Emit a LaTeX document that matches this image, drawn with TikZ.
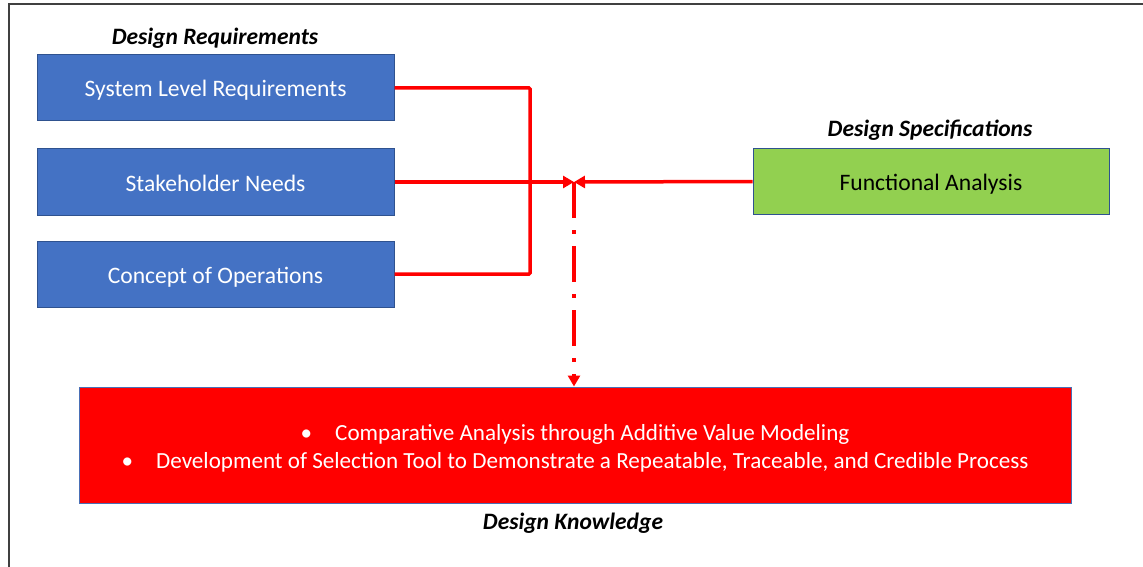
\documentclass[tikz,border=0pt]{standalone}
\usepackage{fontspec}
\setmainfont{Carlito}
\usetikzlibrary{arrows.meta}
\definecolor{boxblue}{HTML}{4472C4}
\definecolor{boxedge}{HTML}{2F528F}
\definecolor{boxgreen}{HTML}{92D050}
\definecolor{edgeblue}{HTML}{4A6FB5}
\tikzset{
  req/.style={rectangle, draw=boxedge, line width=1pt, fill=boxblue, text=white,
    minimum width=357pt, minimum height=66pt, inner sep=0pt, text height=20pt, text depth=2pt,
    font=\fontsize{23.6}{26}\selectfont},
  spec/.style={req, fill=boxgreen, text=black, minimum width=356pt, minimum height=65pt},
  know/.style={rectangle, draw=edgeblue, line width=1pt, fill=red, text=white,
    minimum width=992pt, minimum height=116pt, inner sep=0pt,
    font=\fontsize{23.1}{28}\selectfont},
  ttl/.style={font=\fontsize{23.5}{26}\selectfont\bfseries\itshape, inner sep=0pt},
  wire/.style={draw=red, line width=3.5pt},
  tip/.style={-{Triangle[length=11pt,width=12pt]}},
}
\begin{document}
\begin{tikzpicture}[x=1pt,y=-1pt]
\useasboundingbox (0,0) rectangle (1143,567);
\draw[line width=1.6pt, draw=black!75] (9,567) -- (9,4) -- (1143,4);

\node[ttl] (t1) at (215,38) {Design Requirements};
\node[ttl] (t2) at (930,130) {Design Specifications};
\node[ttl] (t3) at (573,523) {Design Knowledge};

\node[req] (slr) at (215.5,88) {System Level Requirements};
\node[req] (sn) at (215.5,182) {Stakeholder Needs};
\node[req] (cop) at (215.5,274) {Concept of Operations};
\node[spec] (fa) at (931,181.5) {Functional Analysis};
\node[know] (dk) at (575,445) {\raisebox{-4pt}[\height][\depth]{\begin{tabular}{@{}c@{}}\textbullet\hspace{1em}Comparative Analysis through Additive Value Modeling\\
\textbullet\hspace{1em}Development of Selection Tool to Demonstrate a Repeatable, Traceable, and Credible Process\end{tabular}}};

\coordinate (j) at (530,182);
\coordinate (m) at (574,182);

\draw[wire, rounded corners=1pt] (slr.east) -| (j) |- (cop.east);
\draw[wire, tip] (sn.east) -- (m);
\draw[wire, tip] (fa.west) -- (m);
\draw[wire, tip, dash pattern=on 36pt off 12pt on 4pt off 12pt] (m) -- (m |- dk.north);
\end{tikzpicture}
\end{document}
